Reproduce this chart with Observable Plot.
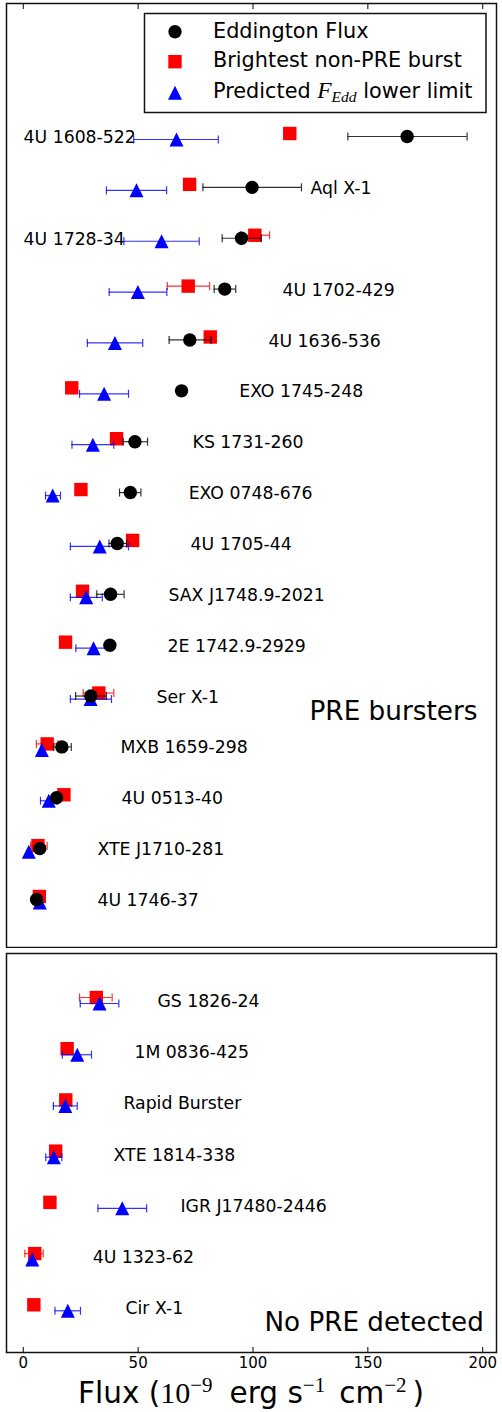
<!DOCTYPE html>
<html><head><meta charset="utf-8">
<script src="https://cdn.jsdelivr.net/npm/d3@7"></script>
<script src="https://cdn.jsdelivr.net/npm/@observablehq/plot@0.6"></script>
<style>
body{margin:0;background:#fff;}
#wrap{position:relative;width:502px;height:1412px;}
#wrap svg{display:block;}
</style></head><body><div id="wrap"></div>
<script>
// ---------- DATA ----------
const upperNames = ["4U 1608-522","Aql X-1","4U 1728-34","4U 1702-429","4U 1636-536","EXO 1745-248","KS 1731-260","EXO 0748-676","4U 1705-44","SAX J1748.9-2021","2E 1742.9-2929","Ser X-1","MXB 1659-298","4U 0513-40","XTE J1710-281","4U 1746-37"];
const upperLabelX = [0.1, 125, 0.1, 112.8, 106.7, 94, 73.7, 72, 72.8, 63.2, 62.8, 58, 42.3, 42.8, 32.3, 32.3];
const eddFlux = [167.1, 99.6, 95.0, 87.7, 72.5, 68.9, 48.6, 46.6, 40.9, 38.0, 37.7, 29.4, 16.8, 14.5, 7.2, 5.8];
const eddLo   = [141.3, 78.2, 86.6, 83.1, 63.5, null, 43.5, 41.9, 37.3, 32.0, null, 22.8, 13.3, null, null, null];
const eddHi   = [193.2, 121.1, 103.6, 92.5, 81.8, null, 54.1, 51.2, 45.0, 43.9, null, 36.2, 20.9, null, null, null];
const nonPreFlux = [116.0, 72.4, 100.8, 71.8, 81.4, 21.1, 40.6, 25.1, 47.6, 25.8, 18.4, 32.9, 10.4, 17.7, 6.4, 7.0];
const nonPreLo   = [null, null, 94.6, 62.7, null, null, null, null, null, null, null, 26.1, 5.7, null, 3.2, null];
const nonPreHi   = [null, null, 107.2, 81.1, null, null, null, null, null, null, null, 39.4, 15.1, null, 10.4, null];
const predFlux = [66.7, 49.3, 60.2, 49.9, 39.9, 35.2, 30.3, 12.8, 33.3, 27.4, 30.6, 29.3, 8.1, 11.1, 2.4, 7.2];
const predLo   = [48.1, 36.2, 43.8, 37.4, 27.9, 24.5, 21.2, 9.7, 20.5, 20.5, 22.9, 20.5, null, 7.5, null, null];
const predHi   = [84.9, 62.4, 76.6, 62.5, 52.0, 45.8, 39.4, 16.2, 45.8, 34.4, 38.0, 38.4, null, 14.8, null, null];

const lowerNames = ["GS 1826-24","1M 0836-425","Rapid Burster","XTE 1814-338","IGR J17480-2446","4U 1323-62","Cir X-1"];
const lowerLabelX = [58.4, 48.4, 43.6, 39.3, 68.4, 30.2, 44.5];
const lowNonPreFlux = [31.8, 19.1, 18.5, 14.1, 11.6, 5.0, 4.6];
const lowNonPreLo   = [24.5, null, null, null, null, 0.7, null];
const lowNonPreHi   = [38.7, null, null, null, null, 8.7, null];
const lowPredFlux = [33.2, 23.5, 18.3, 13.3, 43.1, 3.9, 19.4];
const lowPredLo   = [24.8, 17.0, 13.1, 9.8, 32.5, null, 13.8];
const lowPredHi   = [41.6, 29.7, 23.5, 16.8, 53.7, null, 24.9];

const xTicks = [0, 50, 100, 150, 200];
const legendLabels = ["Eddington Flux", "Brightest non-PRE burst", "Predicted"];
const panelTitles = ["PRE bursters", "No PRE detected"];

// ---------- SYMBOLS ----------
const SQ = {draw(ctx, size){const r = Math.sqrt(size/Math.PI); ctx.moveTo(-r,-r); ctx.lineTo(r,-r); ctx.lineTo(r,r); ctx.lineTo(-r,r); ctx.closePath();}};
const TRI = {draw(ctx, size){const r = Math.sqrt(size/Math.PI); ctx.moveTo(0,-r); ctx.lineTo(r,r); ctx.lineTo(-r,r); ctx.closePath();}};
const CAP = {draw(ctx, size){const r = Math.sqrt(size/Math.PI); ctx.moveTo(0,-r); ctx.lineTo(0,r);}};

const BLACK = "#000000", RED = "#ff0000", BLUE = "#0000ff";
const X_DOMAIN = [-7.3, 206];

function table(names, vals, lo, hi) {
  return names.map((name, i) => ({name, v: vals[i], lo: lo[i], hi: hi[i]}));
}
function seriesMarks(data, color, symbol, r, dy) {
  const err = data.filter(d => d.lo != null && d.hi != null);
  const eo = {stroke: color, strokeWidth: 1.2, strokeOpacity: 0.8, dy};
  return [
    Plot.ruleY(err, {y: "name", x1: "lo", x2: "hi", ...eo}),
    Plot.dot(err, {x: "lo", y: "name", symbol: CAP, r: 4, fill: "none", ...eo}),
    Plot.dot(err, {x: "hi", y: "name", symbol: CAP, r: 4, fill: "none", ...eo}),
    Plot.dot(data, {x: "v", y: "name", symbol, r, fill: color, stroke: "none", dy})
  ];
}
const labelTable = (names, xs) => names.map((name, i) => ({name, x: xs[i]}));

const wrap = document.getElementById("wrap");
const FONT = "DejaVu Sans";

// ---------- UPPER PANEL ----------
const upper = Plot.plot({
  width: 502, height: 948,
  marginTop: 3, marginBottom: 1, marginLeft: 6, marginRight: 6,
  style: {fontFamily: FONT, background: "white", color: "black"},
  x: {domain: X_DOMAIN},
  y: {type: "point", domain: upperNames, range: [136, 899], padding: 0, round: false, axis: null},
  marks: [
    Plot.text(labelTable(upperNames, upperLabelX), {x: "x", y: "name", text: "name", textAnchor: "start", fontSize: 17.3, dy: 1, fill: "black"}),
    ...seriesMarks(table(upperNames, nonPreFlux, nonPreLo, nonPreHi), RED, SQ, 6.7, -3),
    ...seriesMarks(table(upperNames, predFlux, predLo, predHi), BLUE, TRI, 7, 3),
    ...seriesMarks(table(upperNames, eddFlux, eddLo, eddHi), BLACK, "circle", 6.7, 0),
    Plot.text([panelTitles[0]], {frameAnchor: "bottom-right", text: d => d, dx: -19, dy: -236, fontSize: 26.3, textAnchor: "end", lineAnchor: "middle", fill: "black"}),
    Plot.axisX(xTicks, {anchor: "top", tickSize: 5, dy: 5, tickFormat: () => "", label: null, stroke: "black"}),
    Plot.frame({stroke: "#111", strokeWidth: 1.5})
  ]
});
wrap.appendChild(upper);

// legend (inside upper panel)
{
  const svg = d3.select(upper);
  const g = svg.append("g").attr("font-family", FONT).attr("text-anchor", "start");
  g.append("rect").attr("x", 144.5).attr("y", 13.5).attr("width", 341.5).attr("height", 99)
    .attr("fill", "white").attr("stroke", "#111").attr("stroke-width", 1.5);
  const mx = 175, rows = [31.7, 61.7, 92.7], base = [37.8, 67.2, 98.3];
  g.append("circle").attr("cx", mx).attr("cy", rows[0]).attr("r", 6.7).attr("fill", BLACK);
  g.append("rect").attr("x", mx - 6.7).attr("y", rows[1] - 6.7).attr("width", 13.4).attr("height", 13.4).attr("fill", RED);
  g.append("path").attr("d", `M${mx},${rows[2]-7}L${mx+7},${rows[2]+7}L${mx-7},${rows[2]+7}Z`).attr("fill", BLUE);
  const tx = 213, fs = 20.8;
  g.append("text").attr("x", tx).attr("y", base[0]).attr("font-size", fs).attr("text-anchor", "start").text(legendLabels[0]);
  g.append("text").attr("x", tx).attr("y", base[1]).attr("font-size", fs).attr("text-anchor", "start").text(legendLabels[1]);
  const t3 = g.append("text").attr("x", tx).attr("y", base[2]).attr("font-size", fs).attr("text-anchor", "start");
  t3.append("tspan").text(legendLabels[2] + " ");
  t3.append("tspan").attr("font-family", "Liberation Serif").attr("font-style", "italic").attr("font-size", 23.5).text("F");
  t3.append("tspan").attr("font-family", "Liberation Serif").attr("font-style", "italic").attr("font-size", 15.5).attr("dy", 4).text("Edd");
  t3.append("tspan").attr("dy", -4).text(" lower limit");
}

// ---------- LOWER PANEL ----------
const lower = Plot.plot({
  width: 502, height: 464,
  marginTop: 5, marginBottom: 60, marginLeft: 6, marginRight: 6,
  style: {fontFamily: FONT, background: "white", color: "black"},
  x: {domain: X_DOMAIN},
  y: {type: "point", domain: lowerNames, range: [52, 359.3], padding: 0, round: false, axis: null},
  marks: [
    Plot.text(labelTable(lowerNames, lowerLabelX), {x: "x", y: "name", text: "name", textAnchor: "start", fontSize: 17.3, dy: 1, fill: "black"}),
    ...seriesMarks(table(lowerNames, lowNonPreFlux, lowNonPreLo, lowNonPreHi), RED, SQ, 6.7, -3),
    ...seriesMarks(table(lowerNames, lowPredFlux, lowPredLo, lowPredHi), BLUE, TRI, 7, 3),
    Plot.text([panelTitles[1]], {frameAnchor: "bottom-right", text: d => d, dx: -12.7, dy: -29.8, fontSize: 26.2, textAnchor: "end", lineAnchor: "middle", fill: "black"}),
    Plot.axisX(xTicks, {anchor: "bottom", tickSize: 5, dy: -5, tickFormat: () => "", label: null, stroke: "black"}),
    Plot.axisX(xTicks, {anchor: "bottom", tickSize: 0, tickPadding: 5, fontSize: 15, label: null, fill: "black"}),
    Plot.frame({stroke: "#111", strokeWidth: 1.5})
  ]
});
wrap.appendChild(lower);

// x-axis label with math superscripts
{
  const t = d3.select(lower).append("text").attr("x", 251).attr("y", 455)
    .attr("text-anchor", "middle").attr("font-family", FONT).attr("font-size", 29.5).attr("fill", "black");
  const serif = "Liberation Serif";
  t.append("tspan").text("Flux (");
  t.append("tspan").attr("font-family", serif).attr("font-size", 30).text("10");
  t.append("tspan").attr("font-family", serif).attr("font-size", 21).attr("dy", -11).text("\u22129");
  t.append("tspan").attr("dy", 11).attr("dx", 17).text("erg s");
  t.append("tspan").attr("font-family", serif).attr("font-size", 21).attr("dy", -11).text("\u22121");
  t.append("tspan").attr("dy", 11).attr("dx", 14).text("cm");
  t.append("tspan").attr("font-family", serif).attr("font-size", 21).attr("dy", -11).text("\u22122");
  t.append("tspan").attr("dy", 11).attr("dx", 6).text(")");
}
</script></body></html>
